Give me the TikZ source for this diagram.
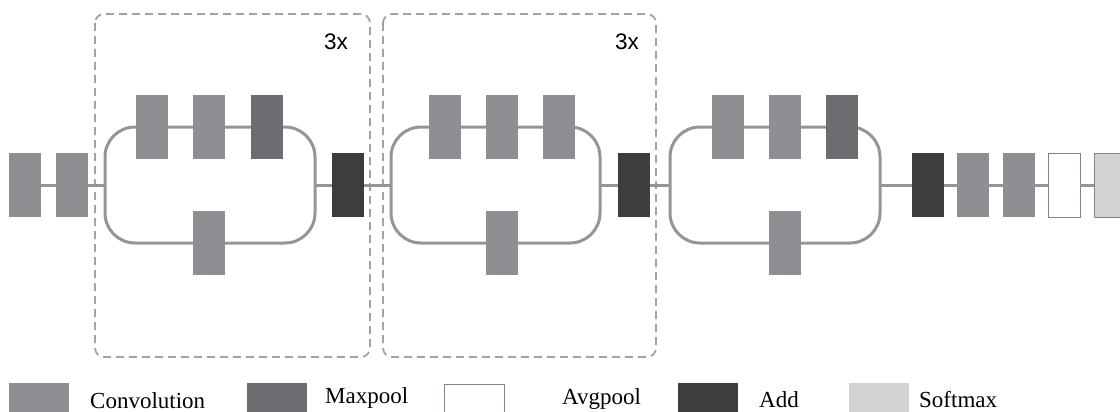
\documentclass[tikz,border=0pt]{standalone}
\usepackage{fontspec}
\setmainfont{Liberation Serif}
\newfontfamily\labelsans{Liberation Sans}
\definecolor{convgray}{HTML}{8E8F93}
\definecolor{poolgray}{HTML}{6C6D71}
\definecolor{addgray}{HTML}{3D3D3F}
\definecolor{softgray}{HTML}{D1D2D4}
\definecolor{wiregray}{HTML}{939598}
\definecolor{dashgray}{HTML}{A3A3A5}
\definecolor{edgegray}{HTML}{8A8282}
\tikzset{
  blk/.style={minimum width=32pt, minimum height=64pt, inner sep=0pt, outer sep=0pt},
  conv/.style={blk, fill=convgray},
  maxp/.style={blk, fill=poolgray},
  addb/.style={blk, fill=addgray},
  avgp/.style={blk, fill=white, draw=edgegray, line width=1pt},
  soft/.style={blk, fill=softgray, draw=edgegray, line width=1pt},
  wire/.style={draw=wiregray, line width=3pt},
  dashbox/.style={draw=dashgray, line width=1.8pt, dash pattern=on 8pt off 5pt, rounded corners=9pt},
  rep/.style={font=\labelsans\fontsize{22.5}{26}\selectfont, text=black, inner sep=0pt},
  swatch/.style={minimum width=60pt, minimum height=40pt, inner sep=0pt, outer sep=0pt, anchor=north west},
  legtext/.style={font=\fontsize{23}{26}\selectfont, anchor=base west, inner sep=0pt}
}
\begin{document}
\begin{tikzpicture}[x=1pt, y=-1pt]
\path[use as bounding box] (0,0) rectangle (1120,412);
\clip (0,0) rectangle (1120,412);

% repeated-stage frames
\draw[dashbox] (95,14) rectangle (370,357);
\draw[dashbox] (383,14) rectangle (656,357);
\node[rep] (rep1) at (336,42) {3x};
\node[rep] (rep2) at (627,42) {3x};

% branch loops of the three modules
\coordinate (m1w) at (105,185); \coordinate (m1e) at (315,185);
\coordinate (m2w) at (391,185); \coordinate (m2e) at (600,185);
\coordinate (m3w) at (670,185); \coordinate (m3e) at (880,185);
\draw[wire, rounded corners=30pt] (105,127) rectangle (315,243);
\draw[wire, rounded corners=30pt] (391,127) rectangle (600,243);
\draw[wire, rounded corners=30pt] (670,127) rectangle (880,243);

% stem
\node[conv] (s1) at (25,185) {};
\node[conv] (s2) at (72,185) {};

% module 1
\node[conv] (a1) at (152,127) {};
\node[conv] (a2) at (209,127) {};
\node[maxp] (a3) at (267,127) {};
\node[conv] (a4) at (209,243) {};
\node[addb] (add1) at (347.5,185) {};

% module 2
\node[conv] (b1) at (445,127) {};
\node[conv] (b2) at (502,127) {};
\node[conv] (b3) at (559,127) {};
\node[conv] (b4) at (502,243) {};
\node[addb] (add2) at (634,185) {};

% module 3
\node[conv] (c1) at (728,127) {};
\node[conv] (c2) at (785,127) {};
\node[maxp] (c3) at (842,127) {};
\node[conv] (c4) at (785,243) {};
\node[addb] (add3) at (927.5,185) {};

% head
\node[conv] (h1) at (973,185) {};
\node[conv] (h2) at (1018.5,185) {};
\node[avgp] (h3) at (1064,185) {};
\node[soft] (h4) at (1110,185) {};

% connectors
\draw[wire] (s1) -- (s2);
\draw[wire] (s2) -- (m1w);
\draw[wire] (m1e) -- (add1);
\draw[wire] (add1) -- (m2w);
\draw[wire] (m2e) -- (add2);
\draw[wire] (add2) -- (m3w);
\draw[wire] (m3e) -- (add3);
\draw[wire] (add3) -- (h1);
\draw[wire] (h1) -- (h2);
\draw[wire] (h2) -- (h3);
\draw[wire] (h3) -- (h4);

% legend
\node[swatch, fill=convgray] (k1) at (9,383) {};
\node[legtext] (t1) at (90,408) {Convolution};
\node[swatch, fill=poolgray] (k2) at (247,383) {};
\node[legtext] (t2) at (325,403) {Maxpool};
\node[swatch, fill=white, draw=edgegray, line width=1pt] (k3) at (444,384) {};
\node[legtext] (t3) at (562,404) {Avgpool};
\node[swatch, fill=addgray] (k4) at (678,383) {};
\node[legtext] (t4) at (759,407) {Add};
\node[swatch, fill=softgray] (k5) at (849,383) {};
\node[legtext] (t5) at (919,407) {Softmax};
\end{tikzpicture}
\end{document}
